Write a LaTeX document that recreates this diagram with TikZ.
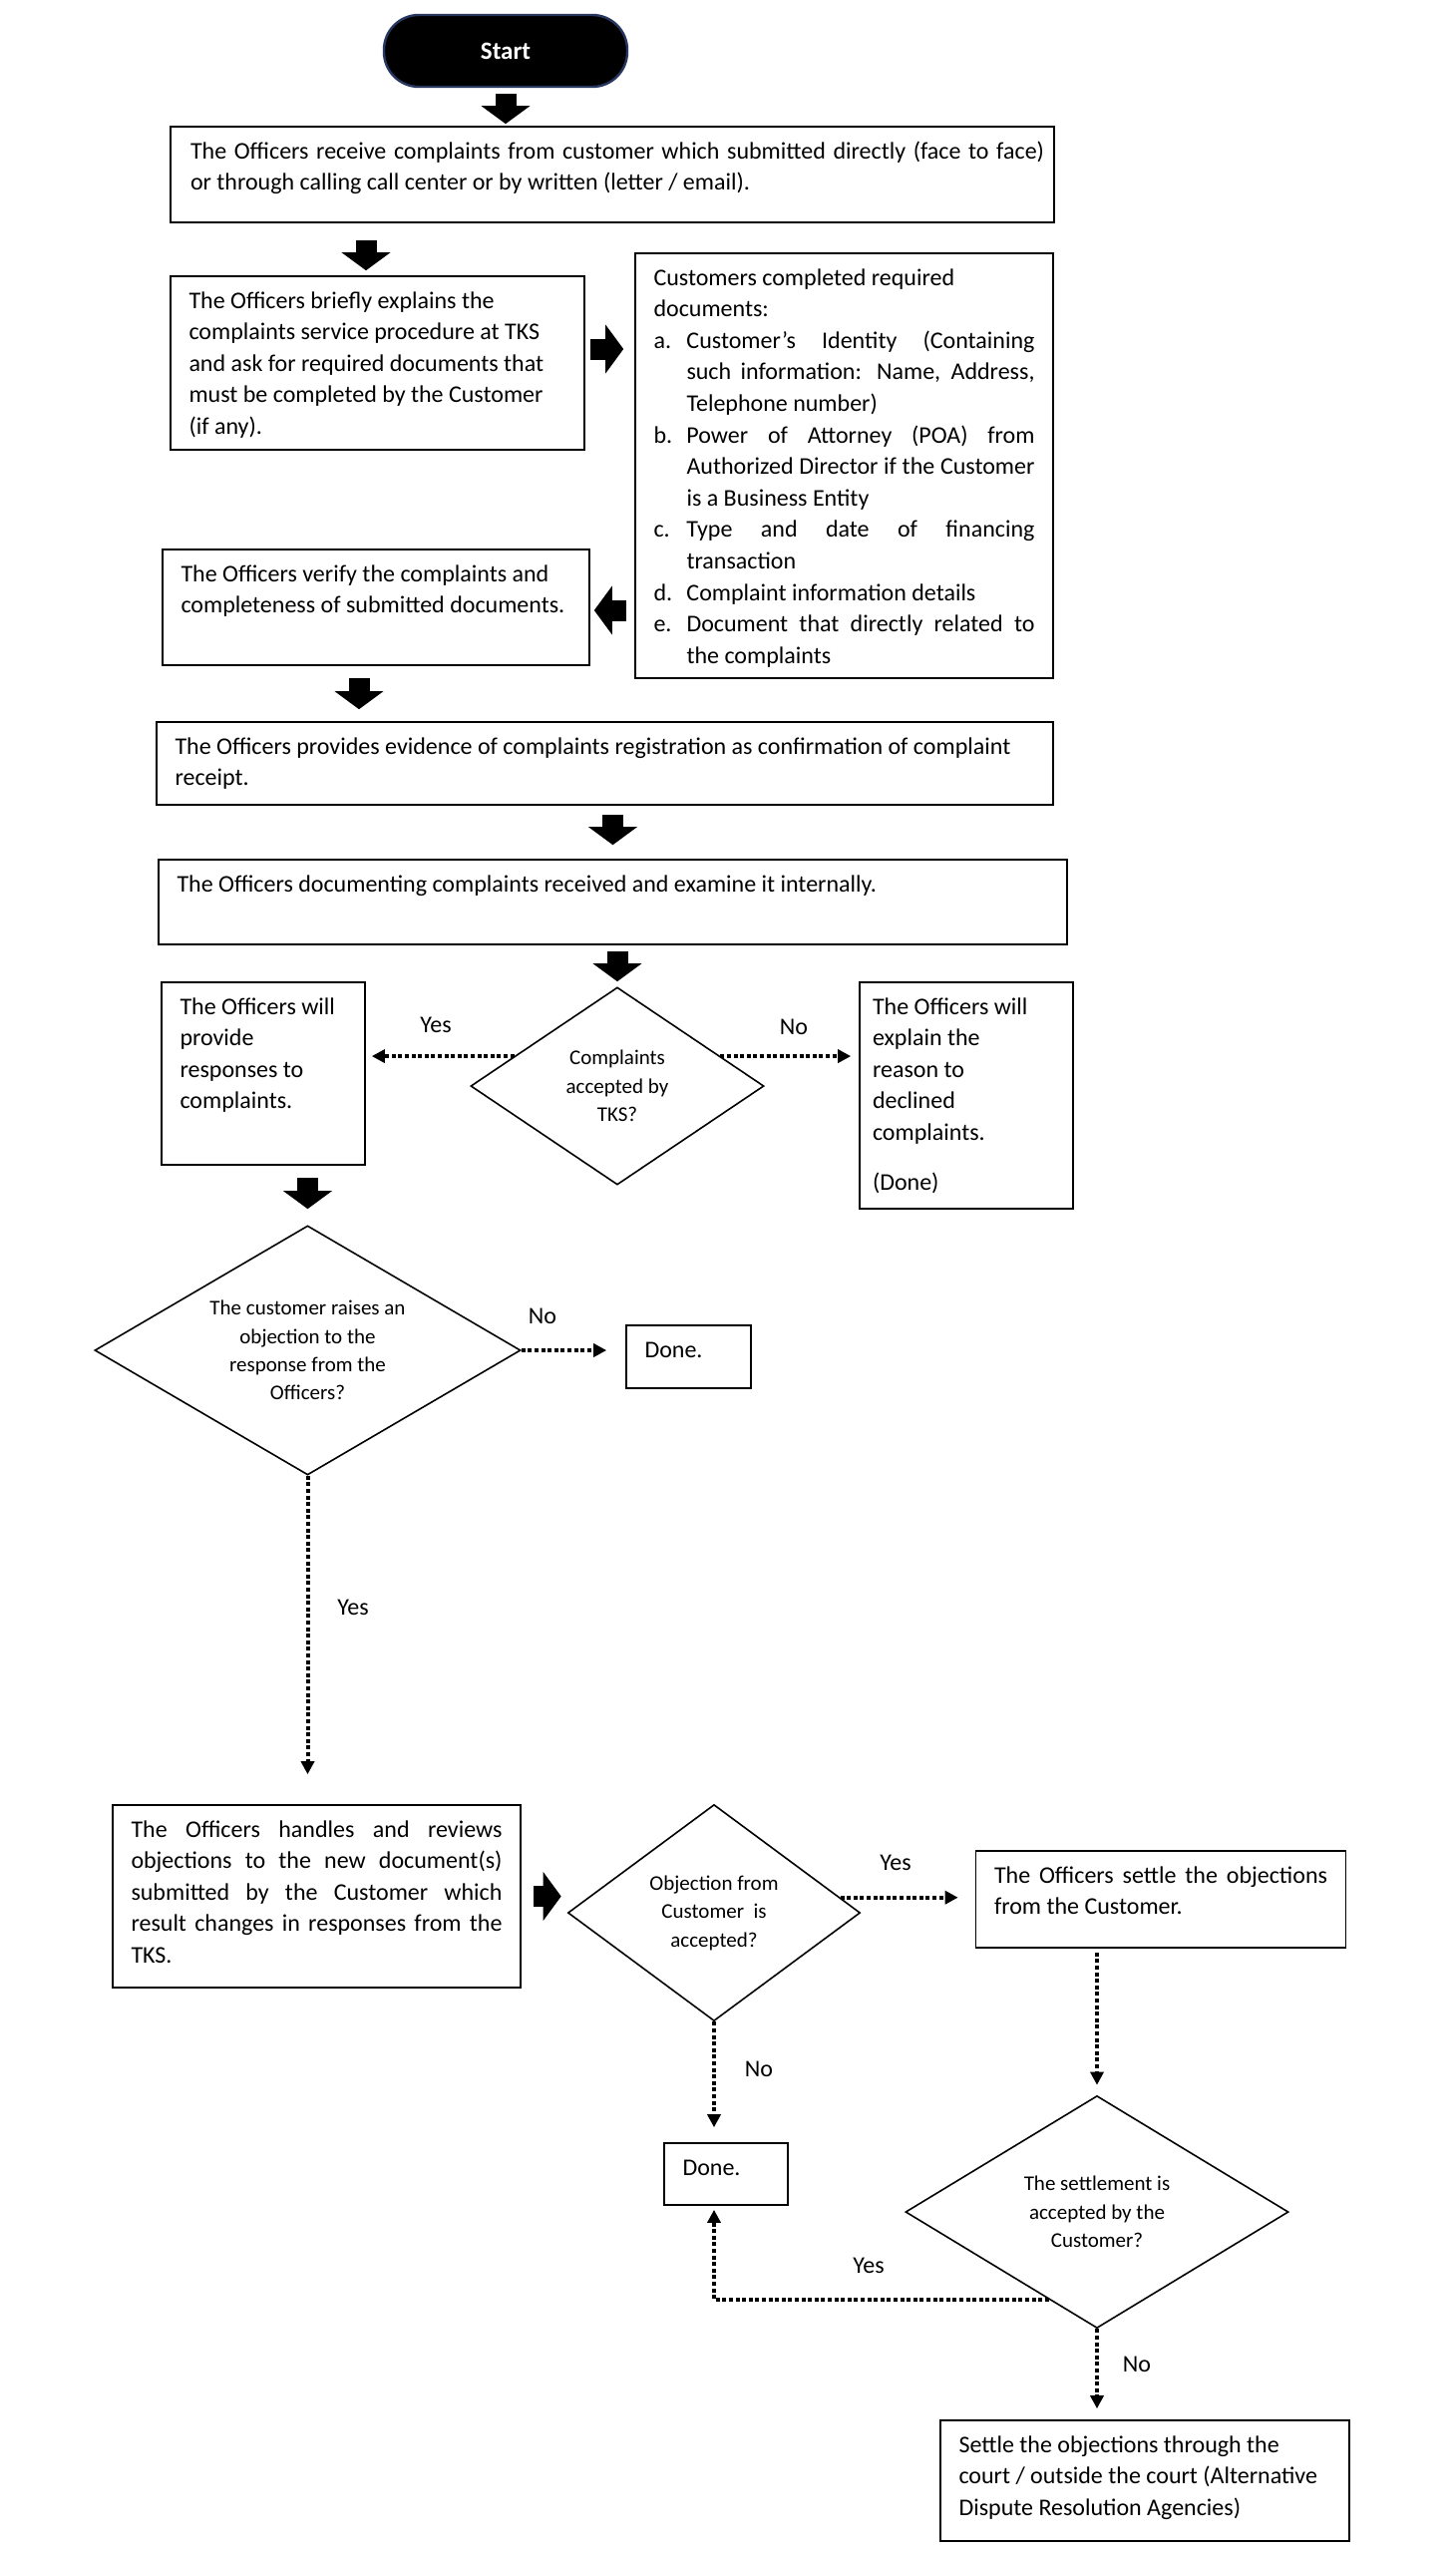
\documentclass[tikz,border=0pt]{standalone}
\usepackage{fontspec}
\setmainfont{Carlito}
\usetikzlibrary{arrows.meta,calc,shapes.geometric}
\definecolor{startedge}{RGB}{40,55,95}
\newcommand\rbx[3]{\parbox[c][\dimexpr #2pt/2\relax][t]{\dimexpr #1pt/2-18.5pt\relax}{\raggedright\rule{0pt}{16pt}#3}}
\newcommand\jbx[3]{\parbox[c][\dimexpr #2pt/2\relax][t]{\dimexpr #1pt/2-18.5pt\relax}{\rule{0pt}{16pt}#3}}
\newcommand\itm[2]{\par{\leftskip=16.5pt\rightskip=0pt\parfillskip=0pt plus 1fil\noindent\llap{\makebox[16.5pt][l]{#1}}#2\par}}
\begin{document}
\begin{tikzpicture}[x=0.5pt,y=-0.5pt,
  bx/.style={draw, line width=0.8pt, inner xsep=9.25pt, inner ysep=0pt, font=\fontsize{12}{15.8}\selectfont},
  dia/.style={diamond, draw, line width=0.8pt, inner sep=0pt, align=center, font=\fontsize{10.5}{14.2}\selectfont},
  startnode/.style={rectangle, rounded corners=17.5pt, fill=black, draw=startedge, line width=1.2pt, text=white, font=\bfseries\fontsize{12.5}{15}\selectfont, minimum width=122pt, minimum height=36pt},
  blk/.style={line width=10.5pt, -{Triangle[length=9pt,width=24pt]}},
  dot/.style={line width=2pt, dash pattern=on 2pt off 1.3pt, -{Triangle[length=6.5pt,width=6.5pt]}},
  lbl/.style={inner sep=0pt, font=\fontsize{12}{14}\selectfont}]
\fill[white] (0,0) rectangle (1460,2560);
\useasboundingbox (0,0) rectangle (1460,2560);

\node[startnode] (start) at (507,51) {Start};
\node[bx, inner xsep=0pt, minimum width=443pt] (box1) at (614,175) {\makebox[443pt][l]{\hspace{10pt}\parbox[c][48pt][t]{428pt}{\rule{0pt}{16pt}The Officers receive complaints from customer which submitted directly (face to face)\linebreak or through calling call center or by written (letter / email).}}};
\node[bx] (box2) at (378.5,364) {\rbx{415}{174}{The Officers briefly explains the\\ complaints service procedure at TKS\\ and ask for required documents that\\ must be completed by the Customer\\ (if any).}};
\node[bx] (box3) at (846.5,467) {\rbx{419}{426}{Customers completed required\\ documents:%
\itm{a.}{Customer’s Identity (Containing\linebreak such information: Name, Address,\linebreak Telephone number)}%
\itm{b.}{Power of Attorney (POA) from\linebreak Authorized Director if the Customer\linebreak is a Business Entity}%
\itm{c.}{Type and date of financing\linebreak transaction}%
\itm{d.}{Complaint information details}%
\itm{e.}{Document that directly related to\linebreak the complaints}}};
\node[bx] (box4) at (377,609) {\rbx{428}{116}{The Officers verify the complaints and\\ completeness of submitted documents.}};
\node[bx] (box5) at (606.5,765.5) {\rbx{899}{83}{The Officers provides evidence of complaints registration as confirmation of complaint\\ receipt.}};
\node[bx] (box6) at (614.5,904.5) {\rbx{911}{85}{The Officers documenting complaints received and examine it internally.}};
\node[dia, minimum width=147pt, minimum height=99pt, shape aspect=1.485] (d1) at (619,1089) {Complaints\\accepted by\\TKS?};
\node[bx] (yesbox) at (264,1076.5) {\rbx{204}{183}{The Officers will\\ provide\\ responses to\\ complaints.}};
\node[bx, inner xsep=0pt, minimum width=107pt] (nobox) at (969,1098.5) {\makebox[107pt][l]{\hspace{6.5pt}\parbox[c][113.5pt][t]{95pt}{\raggedright\rule{0pt}{16pt}The Officers will\\ explain the\\ reason to\\ declined\\ complaints.\\[9pt] (Done)}}};
\node[dia, minimum width=213.5pt, minimum height=125pt, shape aspect=1.708] (d2) at (308.5,1354) {The customer raises an\\objection to the\\response from the\\Officers?};
\node[bx] (done1) at (690.5,1360.5) {\rbx{125}{63}{Done.}};
\node[bx] (box7) at (317.5,1901.5) {\jbx{409}{183}{The Officers handles and reviews\linebreak objections to the new document(s)\linebreak submitted by the Customer which\linebreak result changes in responses from the\linebreak TKS.}};
\node[dia, minimum width=146.5pt, minimum height=108.5pt, shape aspect=1.35] (d3) at (716,1918) {Objection from\\Customer~~is\\accepted?};
\node[bx] (box8) at (1164,1904.5) {\jbx{371}{97}{The Officers settle the objections\linebreak from the Customer.}};
\node[bx] (done2) at (728,2180) {\rbx{124}{62}{Done.}};
\node[dia, minimum width=192pt, minimum height=116.5pt, shape aspect=1.648] (d4) at (1100,2218) {The settlement is\\accepted by the\\Customer?};
\node[bx] (box9) at (1148,2487.5) {\rbx{410}{121}{Settle the objections through the\\ court / outside the court (Alternative\\ Dispute Resolution Agencies)}};

% labels
\node[lbl] (l1) at (437,1028) {Yes};
\node[lbl] (l2) at (796,1030) {No};
\node[lbl] (l3) at (544,1320) {No};
\node[lbl] (l4) at (354,1612) {Yes};
\node[lbl] (l5) at (898,1868) {Yes};
\node[lbl] (l6) at (761,2075) {No};
\node[lbl] (l7) at (871,2272) {Yes};
\node[lbl] (l8) at (1140,2371) {No};

% block arrows
\coordinate (a2) at ([xshift=-5.75pt]box2.north);
\coordinate (a3) at ([yshift=7pt]box2.east);
\coordinate (a4) at ([yshift=-1.5pt]box4.east);
\coordinate (a5) at ([xshift=-8.5pt]box4.south);
\draw[blk, shorten <=3pt, shorten >=1pt] (start.south) -- (start.south |- box1.north);
\draw[blk, shorten <=8.5pt, shorten >=2.5pt] (a2 |- box1.south) -- (a2);
\draw[blk, shorten <=2.5pt, shorten >=5.5pt] (a3) -- (a3 -| box3.west);
\draw[blk, shorten <=4pt, shorten >=2pt] (a4 -| box3.west) -- (a4);
\draw[blk, shorten <=6pt, shorten >=6pt] (a5) -- (a5 |- box5.north);
\draw[blk, shorten <=4.5pt, shorten >=7pt] (box5.south -| box6.north) -- (box6.north);
\draw[blk, shorten <=3pt, shorten >=2.5pt] (box6.south -| d1.north) -- (d1.north);
\draw[blk, shorten <=6pt, shorten >=8pt] (yesbox.south -| d2.north) -- (d2.north);
\draw[blk, shorten <=6pt, shorten >=3pt] (box7.east) -- (box7.east -| d3.west);

% dotted arrows
\coordinate (y1) at ($(d1.west)!0.3!(d1.north)$);
\coordinate (n1) at ($(d1.east)!0.3!(d1.north)$);
\coordinate (y3) at ($(d3.east)!0.14!(d3.north)$);
\coordinate (y4) at ($(d4.west)!0.75!(d4.south)$);
\draw[dot, shorten >=3pt] (y1) -- (y1 -| yesbox.east);
\draw[dot, shorten >=4pt] (n1) -- (n1 -| nobox.west);
\draw[dot, shorten >=9.5pt] (d2.east) -- (d2.east -| done1.west);
\draw[dot, shorten >=15pt] (d2.south) -- (d2.south |- box7.north);
\draw[dot, shorten >=8.5pt] (y3) -- (y3 -| box8.west);
\draw[dot, shorten <=2pt, shorten >=5pt] (box8.south -| d4.north) -- (d4.north);
\draw[dot, shorten >=7.5pt] (d3.south) -- (d3.south |- done2.north);
\draw[dot, shorten >=2pt] (y4) -- (y4 -| d3.south) -- (d3.south |- done2.south);
\draw[dot, shorten >=5.5pt] (d4.south) -- (d4.south |- box9.north);
\end{tikzpicture}
\end{document}
